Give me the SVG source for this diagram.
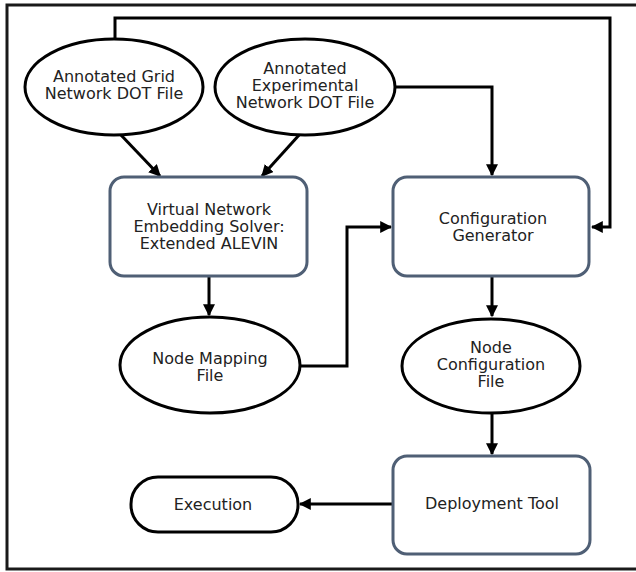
<svg xmlns="http://www.w3.org/2000/svg" width="636" height="572" viewBox="0 0 636 572">
<defs>
<marker id="ah" viewBox="0 0 10 10" refX="9" refY="5" markerWidth="4" markerHeight="4" orient="auto" markerUnits="strokeWidth">
<path d="M0,0 L10,5 L0,10 z" fill="#000"/>
</marker>
</defs>
<style>
.frame{fill:none;stroke:#1a1a1a;stroke-width:3}
.ell{fill:#fff;stroke:#000;stroke-width:3}
.box{fill:#fff;stroke:#4f5f75;stroke-width:3}
.conn{fill:none;stroke:#000;stroke-width:3;marker-end:url(#ah)}
text{font-family:"DejaVu Sans",Verdana,sans-serif;font-size:16px;fill:#222;text-anchor:middle}
</style>
<rect class="frame" x="7" y="5" width="640" height="564"/>
<g id="connectors">
<path class="conn" d="M115,38 V18 H610 V227 H592"/>
<path class="conn" d="M120,134 L160,176"/>
<path class="conn" d="M300,134 L262,176"/>
<path class="conn" d="M395,87 H492 V175"/>
<path class="conn" d="M209,276 V315"/>
<path class="conn" d="M300,366 H347 V227 H391"/>
<path class="conn" d="M492,276 V316"/>
<path class="conn" d="M492,413 V454"/>
<path class="conn" d="M393,504 H300"/>
</g>
<g id="grid">
<ellipse class="ell" cx="114" cy="87" rx="89" ry="48"/>
<text x="114" y="82">Annotated Grid<tspan x="114" dy="17">Network DOT File</tspan></text>
</g>
<g id="experimental">
<ellipse class="ell" cx="305" cy="87" rx="90" ry="48"/>
<text x="305" y="74">Annotated<tspan x="305" dy="17">Experimental</tspan><tspan x="305" dy="17">Network DOT File</tspan></text>
</g>
<g id="vne">
<rect class="box" x="110" y="177" width="197" height="99" rx="14"/>
<text x="209" y="215">Virtual Network<tspan x="209" dy="17">Embedding Solver:</tspan><tspan x="209" dy="17">Extended ALEVIN</tspan></text>
</g>
<g id="configgen">
<rect class="box" x="393" y="177" width="196" height="99" rx="14"/>
<text x="493" y="224">Configuration<tspan x="493" dy="17">Generator</tspan></text>
</g>
<g id="nodemapping">
<ellipse class="ell" cx="210" cy="365" rx="90" ry="48"/>
<text x="210" y="364">Node Mapping<tspan x="210" dy="17">File</tspan></text>
</g>
<g id="nodeconfig">
<ellipse class="ell" cx="491" cy="366" rx="89" ry="47"/>
<text x="491" y="353">Node<tspan x="491" dy="17">Configuration</tspan><tspan x="491" dy="17">File</tspan></text>
</g>
<g id="deploy">
<rect class="box" x="393" y="456" width="197" height="98" rx="14"/>
<text x="492" y="509">Deployment Tool</text>
</g>
<g id="execution">
<rect class="ell" x="131" y="477" width="167" height="55" rx="27"/>
<text x="213" y="510">Execution</text>
</g>
</svg>
